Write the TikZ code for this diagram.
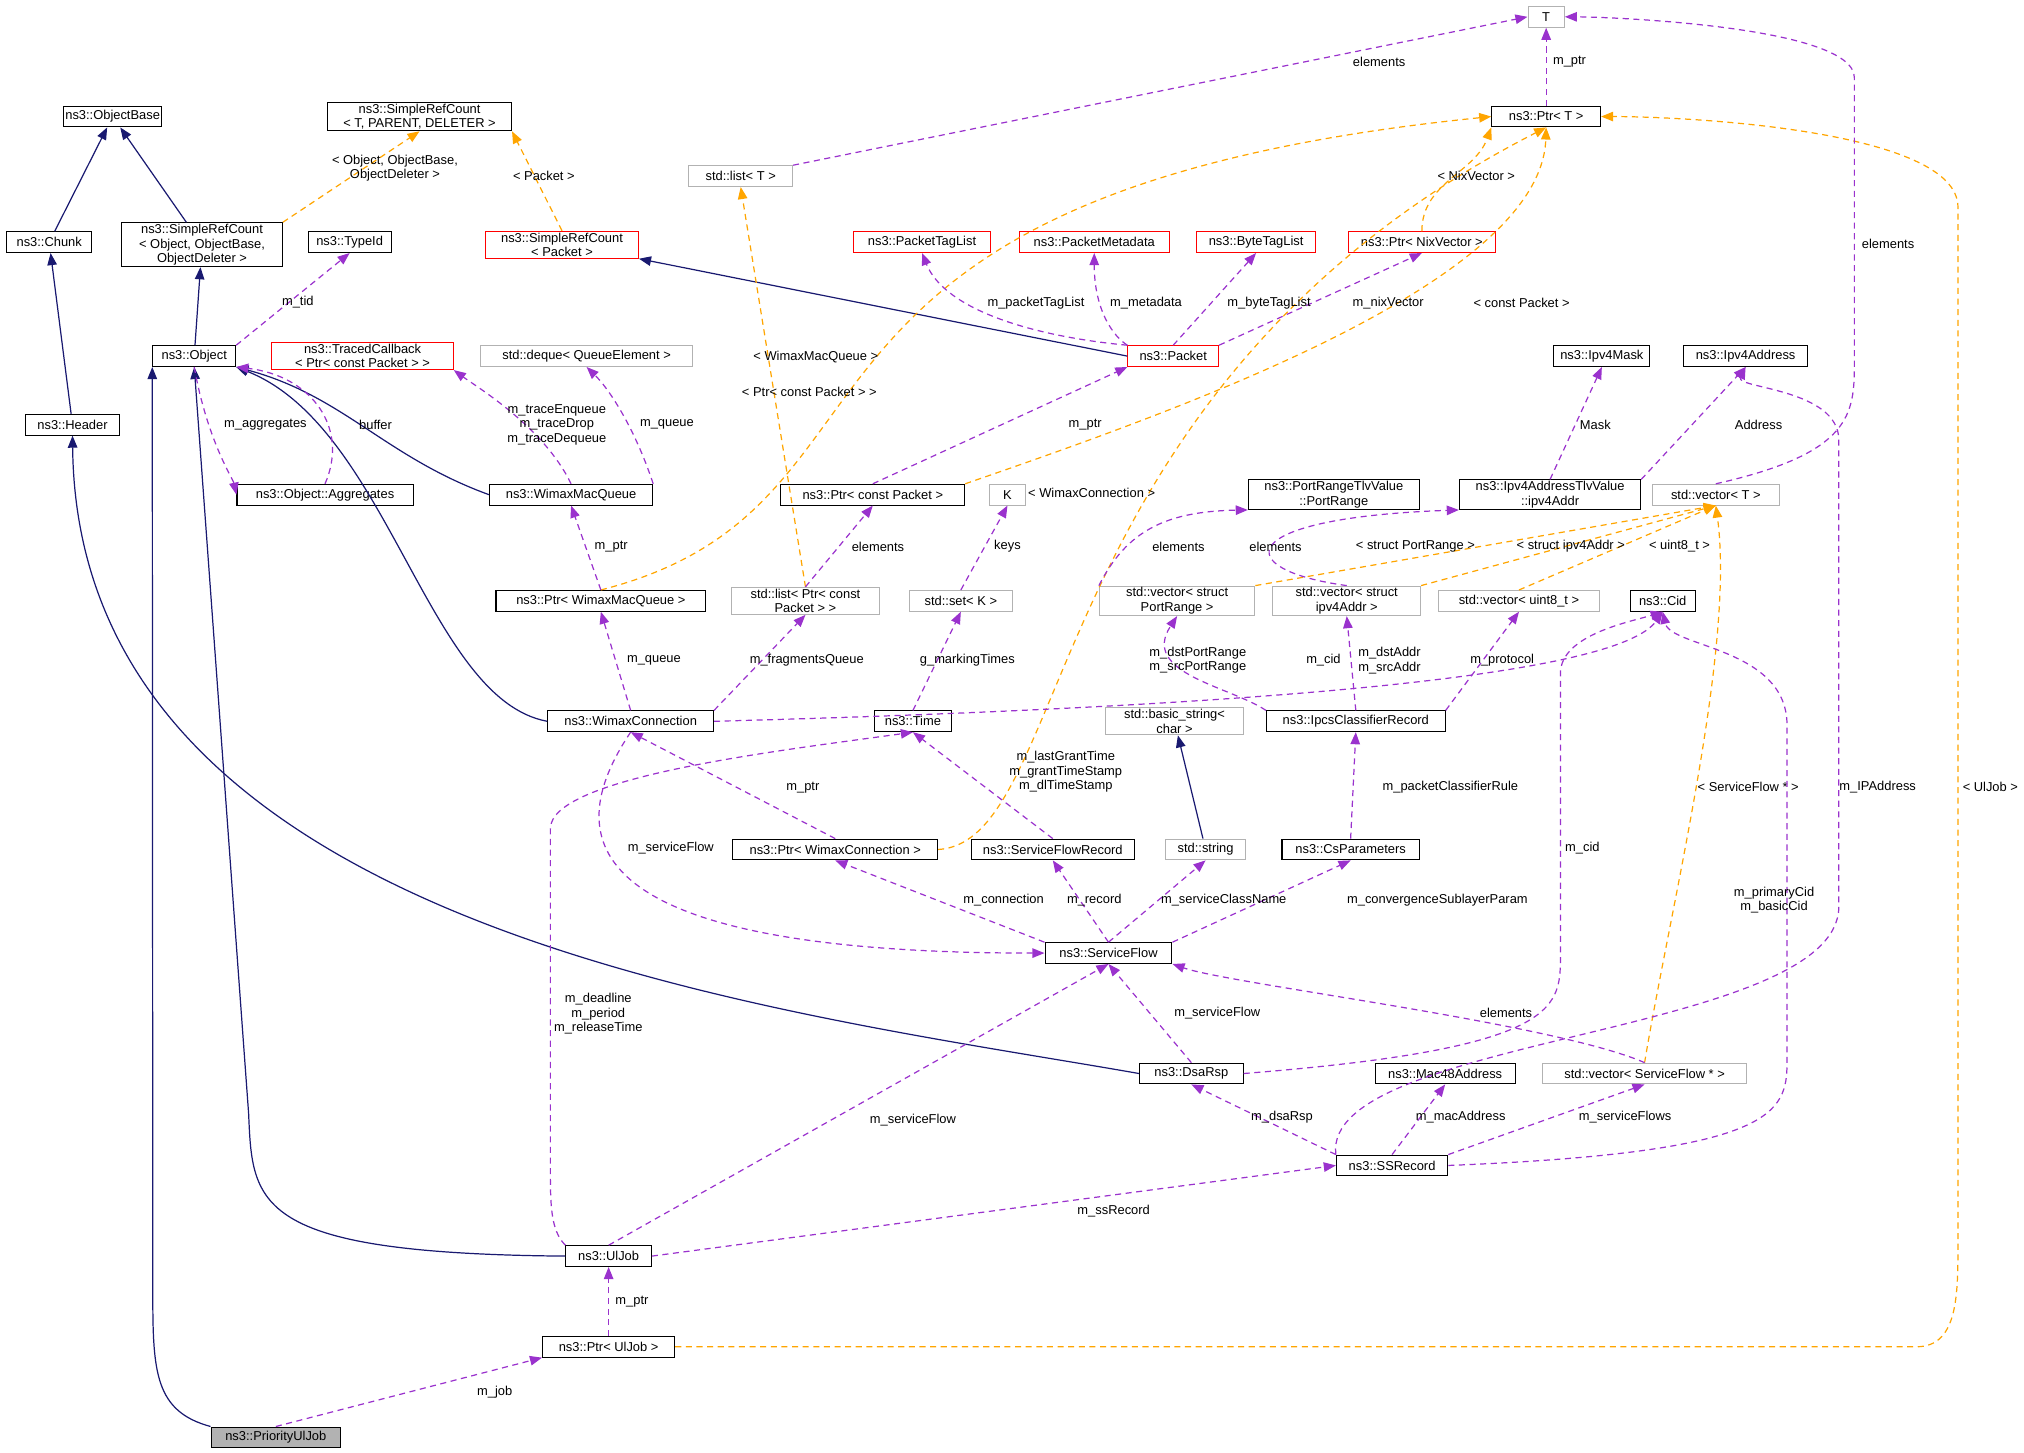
\documentclass[tikz,border=0pt]{standalone}
\usepackage{fontspec}
\setmainfont{Liberation Sans}
\usetikzlibrary{arrows.meta}
\definecolor{navy}{RGB}{25,25,112}
\definecolor{usecol}{RGB}{154,50,205}
\definecolor{tplcol}{RGB}{255,165,0}
\begin{document}
\begin{tikzpicture}
[x=0.03cm, y=-0.03cm,
box/.style={draw=black,line width=0.7pt,inner sep=1pt,minimum height=0.48cm,align=center,font=\fontsize{8.5}{9.5}\selectfont},
graybox/.style={box,draw=gray!60},
redbox/.style={box,draw=red},
inh/.style={draw=navy,line width=0.8pt,-{Triangle[length=0.28cm,width=0.22cm]}},
use/.style={draw=usecol,line width=0.8pt,dash pattern=on 4pt off 3pt,-{Triangle[length=0.28cm,width=0.22cm]}},
tpl/.style={draw=tplcol,line width=0.8pt,dash pattern=on 4pt off 3pt,-{Triangle[length=0.28cm,width=0.22cm]}},
lbl/.style={inner sep=1pt,align=center,font=\fontsize{8.5}{9.5}\selectfont}]
\useasboundingbox (0,0) rectangle (1563,1122);
% classes
\node[graybox,minimum width=28*0.03cm] (T) at (1194,13) {T};
\node[box,minimum width=75*0.03cm] (obase) at (87,90) {ns3::ObjectBase};
\node[box,minimum width=142*0.03cm] (srct) at (324,90) {ns3::SimpleRefCount\\< T, PARENT, DELETER >};
\node[box,minimum width=84*0.03cm] (ptrT) at (1194,90) {ns3::Ptr< T >};
\node[graybox,minimum width=80*0.03cm] (listT) at (572,136) {std::list< T >};
\node[box,minimum width=66*0.03cm] (chunk) at (38,187) {ns3::Chunk};
\node[box,minimum width=124*0.03cm] (srcobj) at (156,189) {ns3::SimpleRefCount\\< Object, ObjectBase,\\ ObjectDeleter >};
\node[box,minimum width=64*0.03cm] (typeid) at (270,187) {ns3::TypeId};
\node[redbox,minimum width=118*0.03cm] (srcpk) at (434,189) {ns3::SimpleRefCount\\< Packet >};
\node[redbox,minimum width=106*0.03cm] (ptaglist) at (712,187) {ns3::PacketTagList};
\node[redbox,minimum width=116*0.03cm] (pmeta) at (845,187) {ns3::PacketMetadata};
\node[redbox,minimum width=92*0.03cm] (btaglist) at (970,187) {ns3::ByteTagList};
\node[redbox,minimum width=114*0.03cm] (ptrnix) at (1098,187) {ns3::Ptr< NixVector >};
\node[box,minimum width=64*0.03cm] (object) at (150,275) {ns3::Object};
\node[redbox,minimum width=140*0.03cm] (traced) at (280,275) {ns3::TracedCallback\\< Ptr< const Packet > >};
\node[graybox,minimum width=164*0.03cm] (deque) at (453,275) {std::deque< QueueElement >};
\node[redbox,minimum width=70*0.03cm] (packet) at (906,275) {ns3::Packet};
\node[box,minimum width=74*0.03cm] (ipmask) at (1237,275) {ns3::Ipv4Mask};
\node[box,minimum width=96*0.03cm] (ipaddr) at (1348,275) {ns3::Ipv4Address};
\node[box,minimum width=72*0.03cm] (header) at (56,328) {ns3::Header};
\node[box,minimum width=136*0.03cm] (aggr) at (251,382) {ns3::Object::Aggregates};
\node[box,minimum width=126*0.03cm] (wmq) at (441,382) {ns3::WimaxMacQueue};
\node[box,minimum width=142*0.03cm] (ptrcp) at (674,382) {ns3::Ptr< const Packet >};
\node[graybox,minimum width=28*0.03cm] (K) at (778,382) {K};
\node[box,minimum width=132*0.03cm] (prange) at (1030,382) {ns3::PortRangeTlvValue\\::PortRange};
\node[box,minimum width=140*0.03cm] (ip4a) at (1197,382) {ns3::Ipv4AddressTlvValue\\::ipv4Addr};
\node[graybox,minimum width=98*0.03cm] (vecT) at (1325,382) {std::vector< T >};
\node[box,minimum width=162*0.03cm] (ptrwmq) at (464,464) {ns3::Ptr< WimaxMacQueue >};
\node[graybox,minimum width=114*0.03cm] (lpcp) at (622,464) {std::list< Ptr< const\\ Packet > >};
\node[graybox,minimum width=80*0.03cm] (setK) at (742,464) {std::set< K >};
\node[graybox,minimum width=120*0.03cm] (vecpr) at (909,464) {std::vector< struct\\ PortRange >};
\node[graybox,minimum width=114*0.03cm] (vecip) at (1040,464) {std::vector< struct\\ ipv4Addr >};
\node[graybox,minimum width=124*0.03cm] (vecu8) at (1173,464) {std::vector< uint8\_t >};
\node[box,minimum width=50*0.03cm] (cid) at (1284,464) {ns3::Cid};
\node[box,minimum width=128*0.03cm] (wconn) at (487,557) {ns3::WimaxConnection};
\node[box,minimum width=60*0.03cm] (time) at (705,557) {ns3::Time};
\node[graybox,minimum width=106*0.03cm] (bstr) at (907,557) {std::basic\_string<\\ char >};
\node[box,minimum width=138*0.03cm] (ipcs) at (1047,557) {ns3::IpcsClassifierRecord};
\node[box,minimum width=158*0.03cm] (ptrwc) at (645,656) {ns3::Ptr< WimaxConnection >};
\node[box,minimum width=126*0.03cm] (sfrec) at (813,656) {ns3::ServiceFlowRecord};
\node[graybox,minimum width=62*0.03cm] (str) at (931,656) {std::string};
\node[box,minimum width=106*0.03cm] (csp) at (1043,656) {ns3::CsParameters};
\node[box,minimum width=98*0.03cm] (sf) at (856,736) {ns3::ServiceFlow};
\node[box,minimum width=80*0.03cm] (dsarsp) at (920,829) {ns3::DsaRsp};
\node[box,minimum width=108*0.03cm] (mac) at (1116,829) {ns3::Mac48Address};
\node[graybox,minimum width=158*0.03cm] (vecsf) at (1270,829) {std::vector< ServiceFlow * >};
\node[box,minimum width=86*0.03cm] (ss) at (1075,900) {ns3::SSRecord};
\node[box,minimum width=66*0.03cm] (ulj) at (470,970) {ns3::UlJob};
\node[box,minimum width=102*0.03cm] (ptrulj) at (470,1040) {ns3::Ptr< UlJob >};
\node[box,fill=gray!60,minimum width=100*0.03cm] (pulj) at (213,1110) {ns3::PriorityUlJob};
% inheritance
\draw[inh] (chunk) -- (obase);
\draw[inh] (srcobj) -- (obase);
\draw[inh] (header) -- (chunk);
\draw[inh] (object) -- (srcobj);
\draw[inh] (packet.west) -- (srcpk.south east);
\draw[inh] (wmq.west) to[out=160,in=-15] (object.south east);
\draw[inh] (wconn.west) .. controls (330,540) and (300,330) .. (object.south east);
\draw[inh] (ulj.west) .. controls (195,968) and (195,930) .. (192,860) -- (object.south);
\draw[inh] (pulj.north west) .. controls (120,1090) and (118,1060) .. (118,1000) -- (object.south west);
\draw[inh] (dsarsp.west) .. controls (600,780) and (60,720) .. (header.south);
\draw[inh] (str) -- (bstr);
% templates
\draw[tpl] (srcobj.north east) -- (srct.south);
\draw[tpl] (srcpk.north) -- (srct.south east);
\draw[tpl] (ptrnix.north) to[out=90,in=-110] (ptrT.south west);
\draw[tpl] (ptrcp.north east) .. controls (900,320) and (1190,220) .. (ptrT.south);
\draw[tpl] (ptrwmq.north) .. controls (720,390) and (560,150) .. (ptrT.west);
\draw[tpl] (ptrwc.east) .. controls (830,650) and (800,300) .. (ptrT.south);
\draw[tpl] (ptrulj.east) -- (1480,1040) .. controls (1512,1040) and (1512,1000) .. (1512,960) -- (1512,160) .. controls (1512,100) and (1300,90) .. (ptrT.east);
\draw[tpl] (lpcp.north) -- (listT.south);
\draw[tpl] (vecpr.north east) -- (vecT.south);
\draw[tpl] (vecip.north east) -- (vecT.south);
\draw[tpl] (vecu8.north) -- (vecT.south);
\draw[tpl] (vecsf.north) .. controls (1290,700) and (1340,500) .. (vecT.south);
\node[lbl] (l1) at (305,130) {< Object, ObjectBase,\\ ObjectDeleter >};
\node[lbl] (l2) at (420,136) {< Packet >};
\node[lbl] (l3) at (1140,136) {< NixVector >};
\node[lbl] (l4) at (1175,234) {< const Packet >};
\node[lbl] (l5) at (630,276) {< WimaxMacQueue >};
\node[lbl] (l6) at (843,381) {< WimaxConnection >};
\node[lbl] (l7) at (1537,608) {< UlJob >};
\node[lbl] (l8) at (625,303) {< Ptr< const Packet > >};
\node[lbl] (l9) at (1093,422) {< struct PortRange >};
\node[lbl] (l10) at (1213,422) {< struct ipv4Addr >};
\node[lbl] (l11) at (1297,422) {< uint8\_t >};
\node[lbl] (l12) at (1350,608) {< ServiceFlow * >};
% usage
\draw[use] (ptrT) -- (T);
\draw[use] (listT.north east) -- (T.west);
\draw[use] (vecT.north) .. controls (1430,350) and (1432,320) .. (1432,280) -- (1432,60) .. controls (1432,20) and (1240,13) .. (T.east);
\draw[use] (object.north east) -- (typeid.south);
\draw[use] (object.south) .. controls (160,340) and (180,370) .. (aggr.west);
\draw[use] (aggr.north) .. controls (270,330) and (240,290) .. (object.south east);
\draw[use] (wmq.north) .. controls (420,330) and (370,300) .. (traced.south east);
\draw[use] (wmq.north east) .. controls (490,330) and (470,300) .. (deque.south);
\draw[use] (packet.north west) .. controls (800,260) and (730,240) .. (ptaglist.south);
\draw[use] (packet.north west) .. controls (860,260) and (845,240) .. (pmeta.south);
\draw[use] (packet.north) -- (btaglist.south);
\draw[use] (packet.north east) -- (ptrnix.south);
\draw[use] (ptrcp.north) -- (packet.south west);
\draw[use] (ptrwmq.north) -- (wmq.south);
\draw[use] (lpcp.north) -- (ptrcp.south);
\draw[use] (setK.north) -- (K.south);
\draw[use] (ip4a.north) -- (ipmask.south);
\draw[use] (ip4a.north east) -- (ipaddr.south);
\draw[use] (vecpr.north west) .. controls (870,410) and (900,395) .. (prange.south west);
\draw[use] (vecip.north) .. controls (950,440) and (950,400) .. (ip4a.south west);
\draw[use] (wconn.north) -- (ptrwmq.south);
\draw[use] (wconn.north east) -- (lpcp.south);
\draw[use] (wconn.east) .. controls (1000,545) and (1250,520) .. (cid.south);
\draw[use] (wconn.south) .. controls (430,650) and (450,736) .. (sf.west);
\draw[use] (time.north) -- (setK.south);
\draw[use] (ipcs.north west) .. controls (950,530) and (880,520) .. (vecpr.south);
\draw[use] (ipcs.north) -- (vecip.south);
\draw[use] (ipcs.north east) -- (vecu8.south);
\draw[use] (ptrwc.north) -- (wconn.south);
\draw[use] (sfrec.north) -- (time.south);
\draw[use] (csp.north) -- (ipcs.south);
\draw[use] (sf.north west) -- (ptrwc.south);
\draw[use] (sf.north) -- (sfrec.south);
\draw[use] (sf.north) -- (str.south);
\draw[use] (sf.north east) -- (csp.south);
\draw[use] (dsarsp.north) -- (sf.south);
\draw[use] (dsarsp.east) .. controls (1200,810) and (1205,780) .. (1205,740) -- (1205,520) .. controls (1205,490) and (1260,480) .. (cid.south);
\draw[use] (vecsf.north) .. controls (1200,790) and (950,760) .. (sf.south east);
\draw[use] (ss.north west) -- (dsarsp.south);
\draw[use] (ss.north) -- (mac.south);
\draw[use] (ss.north east) -- (vecsf.south);
\draw[use] (ss.east) .. controls (1370,890) and (1380,860) .. (1380,820) -- (1380,560) .. controls (1380,500) and (1290,500) .. (cid.south);
\draw[use] (ss.north west) .. controls (1020,800) and (1420,800) .. (1420,700) -- (1420,340) .. controls (1420,300) and (1340,300) .. (ipaddr.south);
\draw[use] (ulj.north west) .. controls (425,950) and (425,930) .. (425,900) -- (425,640) .. controls (425,600) and (600,580) .. (time.south);
\draw[use] (ulj.north) -- (sf.south);
\draw[use] (ulj.east) -- (ss.west);
\draw[use] (ptrulj.north) -- (ulj.south);
\draw[use] (pulj.north) -- (ptrulj.south west);
\node[lbl] (u1) at (1212,48) {m\_ptr};
\node[lbl] (u2) at (1065,48) {elements};
\node[lbl] (u3) at (1458,188) {elements};
\node[lbl] (u4) at (230,233) {m\_tid};
\node[lbl] (u5) at (205,328) {m\_aggregates};
\node[lbl] (u6) at (290,328) {buffer};
\node[lbl] (u7) at (430,328) {m\_traceEnqueue\\m\_traceDrop\\m\_traceDequeue};
\node[lbl] (u8) at (515,328) {m\_queue};
\node[lbl] (u9) at (800,234) {m\_packetTagList};
\node[lbl] (u10) at (885,234) {m\_metadata};
\node[lbl] (u11) at (980,234) {m\_byteTagList};
\node[lbl] (u12) at (1072,234) {m\_nixVector};
\node[lbl] (u13) at (838,328) {m\_ptr};
\node[lbl] (u14) at (472,422) {m\_ptr};
\node[lbl] (u15) at (678,422) {elements};
\node[lbl] (u16) at (778,422) {keys};
\node[lbl] (u17) at (1232,328) {Mask};
\node[lbl] (u18) at (1358,328) {Address};
\node[lbl] (u19) at (910,422) {elements};
\node[lbl] (u20) at (985,422) {elements};
\node[lbl] (u21) at (505,510) {m\_queue};
\node[lbl] (u22) at (623,510) {m\_fragmentsQueue};
\node[lbl] (u23) at (1022,510) {m\_cid};
\node[lbl] (u24) at (518,655) {m\_serviceFlow};
\node[lbl] (u25) at (747,510) {g\_markingTimes};
\node[lbl] (u26) at (925,510) {m\_dstPortRange\\m\_srcPortRange};
\node[lbl] (u27) at (1073,510) {m\_dstAddr\\m\_srcAddr};
\node[lbl] (u28) at (1160,510) {m\_protocol};
\node[lbl] (u29) at (620,608) {m\_ptr};
\node[lbl] (u30) at (823,596) {m\_lastGrantTime\\m\_grantTimeStamp\\m\_dlTimeStamp};
\node[lbl] (u31) at (1120,608) {m\_packetClassifierRule};
\node[lbl] (u32) at (775,695) {m\_connection};
\node[lbl] (u33) at (845,695) {m\_record};
\node[lbl] (u34) at (945,695) {m\_serviceClassName};
\node[lbl] (u35) at (1110,695) {m\_convergenceSublayerParam};
\node[lbl] (u36) at (940,782) {m\_serviceFlow};
\node[lbl] (u37) at (1222,655) {m\_cid};
\node[lbl] (u38) at (1163,782) {elements};
\node[lbl] (u39) at (990,863) {m\_dsaRsp};
\node[lbl] (u40) at (1128,863) {m\_macAddress};
\node[lbl] (u41) at (1255,863) {m\_serviceFlows};
\node[lbl] (u42) at (1370,695) {m\_primaryCid\\m\_basicCid};
\node[lbl] (u43) at (1450,608) {m\_IPAddress};
\node[lbl] (u44) at (462,783) {m\_deadline\\m\_period\\m\_releaseTime};
\node[lbl] (u45) at (705,865) {m\_serviceFlow};
\node[lbl] (u46) at (860,935) {m\_ssRecord};
\node[lbl] (u47) at (488,1005) {m\_ptr};
\node[lbl] (u48) at (382,1075) {m\_job};
\end{tikzpicture}
\end{document}
